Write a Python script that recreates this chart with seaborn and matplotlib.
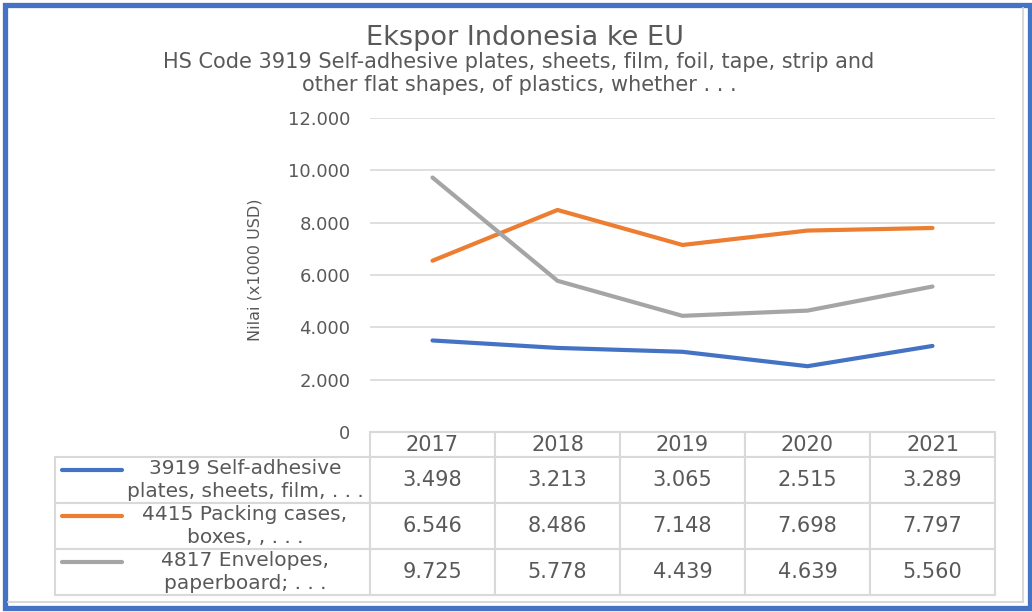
import numpy as np
import pandas as pd
import seaborn as sns
import matplotlib.pyplot as plt
from matplotlib.patches import Rectangle
from matplotlib.lines import Line2D

# data
years = ["2017", "2018", "2019", "2020", "2021"]
s3919 = [3498, 3213, 3065, 2515, 3289]
s4415 = [6546, 8486, 7148, 7698, 7797]
s4817 = [9725, 5778, 4439, 4639, 5560]
series_names = ["3919 Self-adhesive\nplates, sheets, film, . . .",
                "4415 Packing cases,\nboxes, , . . .",
                "4817 Envelopes,\npaperboard; . . ."]
colors = ["#4472C4", "#ED7D31", "#A5A5A5"]
yticks = [0, 2000, 4000, 6000, 8000, 10000, 12000]

df = pd.DataFrame({"year": years * 3,
                   "pos": list(range(5)) * 3,
                   "value": s3919 + s4415 + s4817,
                   "series": [series_names[0]] * 5 + [series_names[1]] * 5 + [series_names[2]] * 5})

sns.set_theme(style="white")
plt.rcParams['font.family'] = ['DejaVu Sans']
txt = "#595959"

W, H = 1032, 612
fig = plt.figure(figsize=(W / 100, H / 100), dpi=100)

def fx(px):
    return px / W

def fy(py):
    return 1 - py / H

# plot area in pixels: x 370..995, y 118..432
AW, AH = 625, 314
ax = fig.add_axes([fx(370), fy(432), AW / W, AH / H])
sns.lineplot(data=df, x="pos", y="value", hue="series", palette=colors,
             linewidth=3, ax=ax, legend=False, solid_capstyle="round")
ax.set_xlim(-0.5, 4.5)
ax.set_ylim(0, 12000)
ax.set_yticks(yticks)
ax.set_yticklabels([f"{v:,}".replace(",", ".") for v in yticks], color=txt, fontsize=13)
ax.tick_params(axis="y", length=0, pad=14)
ax.set_xticks([])
ax.set_xlabel("")
for v in yticks[1:]:
    ax.axhline(v, color="#D9D9D9", lw=1.2, zorder=0)
for sp in ax.spines.values():
    sp.set_visible(False)
ax.set_ylabel("")

fig.text(fx(255), fy(270), "Nilai (x1000 USD)", rotation=90, ha="center", va="center",
         color=txt, fontsize=11.5)

fig.text(fx(525), fy(38), "Ekspor Indonesia ke EU", ha="center", va="center",
         color=txt, fontsize=19.5)
fig.text(fx(519), fy(62), "HS Code 3919 Self-adhesive plates, sheets, film, foil, tape, strip and",
         ha="center", va="center", color=txt, fontsize=15)
fig.text(fx(519), fy(85), "other flat shapes, of plastics, whether . . .",
         ha="center", va="center", color=txt, fontsize=15)

# data table under the plot (cell sizes in axes units)
cell_text = [[f"{v:,}".replace(",", ".") for v in s] for s in (s3919, s4415, s4817)]
tab = ax.table(cellText=cell_text, rowLabels=["", "", ""], colLabels=years,
               cellLoc="center", rowLoc="center",
               bbox=[0, -163 / AH, 1, 163 / AH])
tab._autoColumns = []
tab.auto_set_font_size(False)
for (r, c), cell in tab.get_celld().items():
    cell.set_edgecolor("#D9D9D9")
    cell.set_linewidth(1.5)
    cell.get_text().set_color(txt)
    cell.get_text().set_fontsize(15)
    cell.set_width(315 / AW if c == -1 else 125 / AW)
    cell.set_height(25 / AH if r == 0 else 46 / AH)

row_tops = [457, 503, 549]
for i, name in enumerate(series_names):
    y0 = row_tops[i]
    fig.add_artist(Line2D([fx(62), fx(122)], [fy(y0 + 13), fy(y0 + 13)], color=colors[i],
                          lw=3, solid_capstyle="round"))
    fig.text(fx(245), fy(y0 + 23), name, ha="center", va="center", color=txt,
             fontsize=14.5, linespacing=1.25)

# blue frame around the chart
fig.add_artist(Rectangle((fx(4.5), fy(607.5)), fx(1025), fy(4.5) - fy(607.5),
                         fill=False, edgecolor="#4472C4", lw=3.8, transform=fig.transFigure))
fig.add_artist(Line2D([fx(1023), fx(1023)], [fy(8), fy(602)], color="#D9D9D9", lw=1.5))
fig.add_artist(Line2D([fx(8), fx(1023)], [fy(602), fy(602)], color="#D9D9D9", lw=1.5))

fig.savefig("out.png", dpi=100)
